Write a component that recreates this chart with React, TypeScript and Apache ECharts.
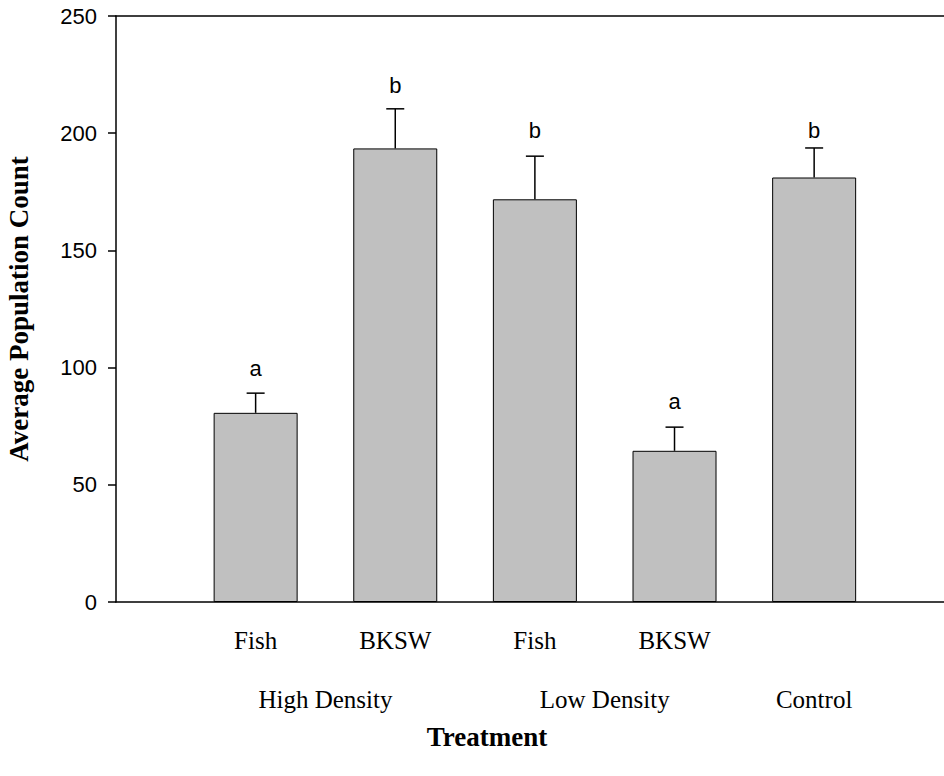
import React, { useEffect, useRef } from "react";
import * as echarts from "echarts";

// ---- data ----
const categories = ["Fish", "BKSW", "Fish", "BKSW", ""];
const groupNames = ["High Density", "Low Density", "Control"];
const groupSpans = [[1, 2], [3, 4], [5, 5]];
const means = [80.7, 193.5, 171.8, 64.5, 181.1];
const upperErr = [89.1, 210.4, 190.2, 74.6, 193.7];
const letters = ["a", "b", "b", "a", "b"];
const letterLevels = [96.1, 216.9, 197.7, 82.3, 197.7];
const yTicks = [0, 50, 100, 150, 200, 250];

const SANS = '"Liberation Sans", Arial, sans-serif';
const SERIF = '"Liberation Serif", "Times New Roman", serif';

export default function App() {
  const ref = useRef<HTMLDivElement>(null);
  useEffect(() => {
    if (!ref.current) return;
    const chart = echarts.init(ref.current, null, { renderer: "svg" });
    const positions = means.map((_, i) => i + 1);
    const groupCenters = groupSpans.map((s) => (s[0] + s[1]) / 2);
    const xMax = 5.93;
    const option: any = {
      animation: false,
      backgroundColor: "#fff",
      grid: { left: 116, right: 0, top: 16, bottom: 174, containLabel: false, outerBoundsMode: "none" },
      xAxis: [
        {
          type: "value",
          min: 0,
          max: xMax,
          position: "bottom",
          axisLine: { show: true, onZero: false, lineStyle: { color: "#000", width: 1.5 } },
          axisTick: { show: false },
          splitLine: { show: false },
          axisLabel: {
            customValues: positions.slice(0, 4),
            formatter: (v: number) => categories[Math.round(v) - 1] ?? "",
            fontFamily: SERIF,
            fontSize: 25,
            color: "#000",
            margin: 26,
          },
        },
        {
          type: "value",
          min: 0,
          max: xMax,
          position: "bottom",
          offset: 59,
          axisLine: { show: false },
          axisTick: { show: false },
          splitLine: { show: false },
          axisLabel: {
            customValues: groupCenters,
            formatter: (v: number) => {
              const i = groupCenters.findIndex((c) => Math.abs(c - v) < 1e-6);
              return i >= 0 ? groupNames[i] : "";
            },
            fontFamily: SERIF,
            fontSize: 25,
            color: "#000",
            margin: 26,
          },
        },
        {
          type: "value",
          min: 0,
          max: xMax,
          position: "top",
          axisLine: { show: true, onZero: false, lineStyle: { color: "#000", width: 1.5 } },
          axisTick: { show: false },
          axisLabel: { show: false },
          splitLine: { show: false },
        },
      ],
      yAxis: {
        type: "value",
        min: yTicks[0],
        max: yTicks[yTicks.length - 1],
        interval: 50,
        name: "Average Population Count",
        nameLocation: "middle",
        nameGap: 84,
        nameTextStyle: { fontFamily: SERIF, fontWeight: "bold", fontSize: 27, color: "#000" },
        axisLine: { show: true, lineStyle: { color: "#000", width: 1.5 } },
        axisTick: { show: true, inside: false, length: 8, lineStyle: { color: "#000", width: 1.5 } },
        splitLine: { show: false },
        axisLabel: { fontFamily: SANS, fontSize: 22, color: "#000", margin: 19 },
      },
      series: [
        {
          type: "bar",
          xAxisIndex: 0,
          data: means.map((m, i) => [positions[i], m]),
          barWidth: 84,
          itemStyle: { color: "#c0c0c0", borderColor: "#000", borderWidth: 1 },
          z: 2,
        },
        {
          type: "custom",
          xAxisIndex: 0,
          z: 3,
          data: means.map((m, i) => [positions[i], m, upperErr[i], letterLevels[i]]),
          renderItem: (params: any, api: any) => {
            const x = api.value(0);
            const p0 = api.coord([x, api.value(1)]);
            const p1 = api.coord([x, api.value(2)]);
            const pl = api.coord([x, api.value(3)]);
            return {
              type: "group",
              children: [
                {
                  type: "line",
                  shape: { x1: p0[0], y1: p0[1], x2: p1[0], y2: p1[1] },
                  style: { stroke: "#000", lineWidth: 1.5 },
                },
                {
                  type: "line",
                  shape: { x1: p1[0] - 9, y1: p1[1], x2: p1[0] + 9, y2: p1[1] },
                  style: { stroke: "#000", lineWidth: 1.5 },
                },
                {
                  type: "text",
                  x: pl[0],
                  y: pl[1] - 8,
                  style: {
                    text: letters[params.dataIndex],
                    fill: "#000",
                    fontFamily: SANS,
                    fontSize: 22,
                    align: "center",
                    verticalAlign: "middle",
                  },
                },
              ],
            };
          },
        },
      ],
      graphic: [
        {
          type: "text",
          x: 487,
          y: 737,
          style: {
            text: "Treatment",
            fill: "#000",
            fontFamily: SERIF,
            fontWeight: "bold",
            fontSize: 27,
            align: "center",
            verticalAlign: "middle",
          },
        },
      ],
    };
    chart.setOption(option);
    return () => chart.dispose();
  }, []);
  return (
    <div
      ref={ref}
      style={{ position: "absolute", left: 0, top: 0, width: 944, height: 776 }}
    />
  );
}
